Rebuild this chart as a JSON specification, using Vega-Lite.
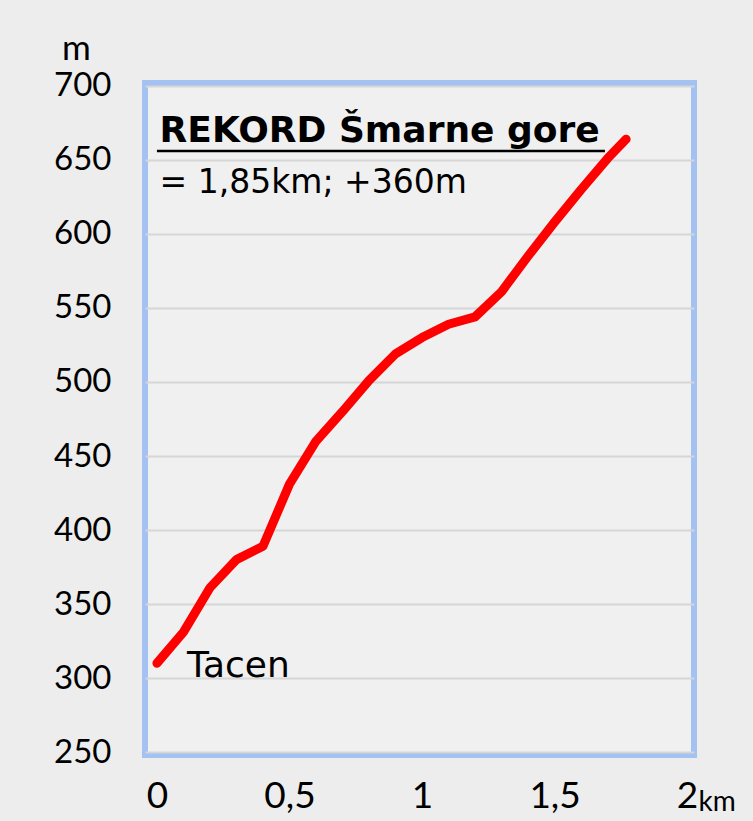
{
  "$schema": "https://vega.github.io/schema/vega-lite/v6.json",
  "autosize": {"type": "none"},
  "width": 549,
  "height": 672,
  "padding": {"left": 145, "top": 83, "right": 59, "bottom": 66},
  "background": "#ededed",
  "config": {
    "font": "Lato",
    "view": {"fill": "#f0f0f0", "stroke": "#a3c1f1", "strokeWidth": 6}
  },
  "datasets": {
    "profile": [
      {"km": 0, "m": 310},
      {"km": 0.1, "m": 331},
      {"km": 0.2, "m": 361},
      {"km": 0.3, "m": 380},
      {"km": 0.4, "m": 389},
      {"km": 0.5, "m": 431},
      {"km": 0.6, "m": 460},
      {"km": 0.7, "m": 480},
      {"km": 0.8, "m": 501},
      {"km": 0.9, "m": 519},
      {"km": 1.0, "m": 530},
      {"km": 1.1, "m": 539},
      {"km": 1.2, "m": 544},
      {"km": 1.3, "m": 561},
      {"km": 1.4, "m": 585},
      {"km": 1.5, "m": 608},
      {"km": 1.6, "m": 630},
      {"km": 1.7, "m": 651},
      {"km": 1.77, "m": 664}
    ],
    "titles": [
      {"label": "REKORD Šmarne gore", "km": 0.01, "m": 662, "kind": "title"},
      {"label": "= 1,85km; +360m", "km": 0.01, "m": 628, "kind": "sub"}
    ],
    "underline": [
      {"km": 0.0, "km2": 1.69, "m": 656}
    ],
    "places": [
      {"label": "Tacen", "km": 0.113, "m": 301}
    ]
  },
  "layer": [
    {
      "data": {"name": "profile"},
      "mark": {"type": "line", "color": "#ff0000", "strokeWidth": 9, "strokeCap": "round", "strokeJoin": "round"},
      "encoding": {
        "x": {
          "field": "km", "type": "quantitative",
          "scale": {"domain": [-0.045, 2.026], "nice": false, "zero": false},
          "axis": {
            "values": [0, 0.5, 1, 1.5, 2],
            "labelExpr": "replace(toString(datum.value), '.', ',')",
            "grid": false, "domain": false, "ticks": false, "tickSize": 0,
            "labelFontSize": 37, "labelColor": "#000000", "labelPadding": 23,
            "labelFlush": false,
            "title": "km", "titleFontSize": 28, "titleFontWeight": "normal", "titleColor": "#000000",
            "titleAlign": "left", "titleBaseline": "alphabetic", "titleX": 553, "titleY": 55
          }
        },
        "y": {
          "field": "m", "type": "quantitative",
          "scale": {"domain": [248, 702], "nice": false, "zero": false},
          "axis": {
            "values": [250, 300, 350, 400, 450, 500, 550, 600, 650, 700],
            "grid": true, "gridColor": "#d6d6d6", "gridWidth": 2,
            "domain": false, "ticks": false, "tickSize": 0,
            "labelFontSize": 33, "labelColor": "#000000", "labelPadding": 34,
            "labelFlush": false,
            "title": "m", "titleAngle": 0, "titleFontSize": 35, "titleFontWeight": "normal", "titleColor": "#000000",
            "titleAlign": "center", "titleBaseline": "alphabetic", "titleX": -69, "titleY": -24
          }
        }
      }
    },
    {
      "data": {"name": "titles"},
      "transform": [{"filter": "datum.kind === 'title'"}],
      "mark": {"type": "text", "align": "left", "baseline": "alphabetic", "font": "DejaVu Sans", "fontSize": 36, "fontWeight": "bold", "color": "#000000"},
      "encoding": {
        "x": {"field": "km", "type": "quantitative"},
        "y": {"field": "m", "type": "quantitative"},
        "text": {"field": "label"}
      }
    },
    {
      "data": {"name": "titles"},
      "transform": [{"filter": "datum.kind === 'sub'"}],
      "mark": {"type": "text", "align": "left", "baseline": "alphabetic", "font": "DejaVu Sans", "fontSize": 33, "color": "#000000"},
      "encoding": {
        "x": {"field": "km", "type": "quantitative"},
        "y": {"field": "m", "type": "quantitative"},
        "text": {"field": "label"}
      }
    },
    {
      "data": {"name": "underline"},
      "mark": {"type": "rule", "color": "#000000", "strokeWidth": 2.5},
      "encoding": {
        "x": {"field": "km", "type": "quantitative"},
        "x2": {"field": "km2"},
        "y": {"field": "m", "type": "quantitative"}
      }
    },
    {
      "data": {"name": "places"},
      "mark": {"type": "text", "align": "left", "baseline": "alphabetic", "font": "DejaVu Sans", "fontSize": 36, "color": "#000000"},
      "encoding": {
        "x": {"field": "km", "type": "quantitative"},
        "y": {"field": "m", "type": "quantitative"},
        "text": {"field": "label"}
      }
    }
  ]
}
